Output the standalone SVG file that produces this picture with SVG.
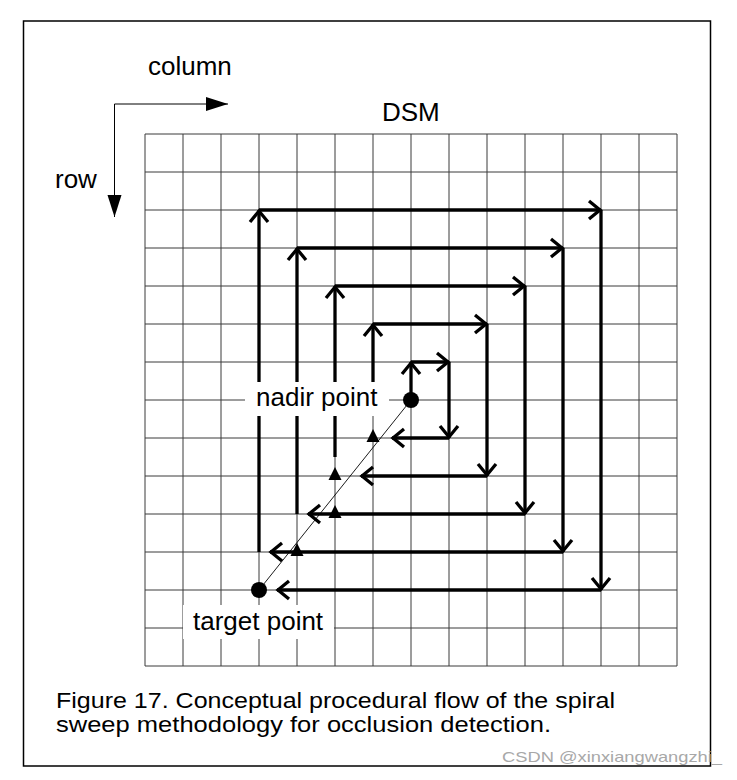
<svg xmlns="http://www.w3.org/2000/svg" width="737" height="780" viewBox="0 0 737 780">
<style>
  .grid { stroke: #3a3a3a; stroke-width: 1; fill: none; }
  .sp { stroke: #000; stroke-width: 3.3; fill: none; marker-end: url(#chev); }
  .lbl { font-family: "Liberation Sans", Arial, sans-serif; font-size: 26px; fill: #000; }
  .cap { font-family: "Liberation Sans", Arial, sans-serif; font-size: 21.5px; fill: #000; }
  .box { fill: #fff; stroke: none; }
</style>
<defs>
  <marker id="chev" markerUnits="userSpaceOnUse" orient="auto" refX="1" refY="0" markerWidth="30" markerHeight="30" viewBox="-15 -15 30 30" overflow="visible">
    <path d="M-11,-9 L0,0 L-11,9" fill="none" stroke="#000" stroke-width="3.3"/>
  </marker>
  <marker id="tri" markerUnits="userSpaceOnUse" orient="auto" refX="0" refY="0" markerWidth="30" markerHeight="30" viewBox="-25 -10 30 20" overflow="visible">
    <path d="M-22,-7 L0,0 L-22,7 Z" fill="#000"/>
  </marker>
</defs>
<rect width="737" height="780" fill="#fff"/>
<rect id="frame" x="23.5" y="21" width="687" height="745" fill="none" stroke="#000" stroke-width="1.5"/>

<g id="axes">
  <path d="M114.5 104 H228" stroke="#000" stroke-width="1" fill="none" marker-end="url(#tri)"/>
  <path d="M114.5 104 V217" stroke="#000" stroke-width="1" fill="none" marker-end="url(#tri)"/>
  <text class="lbl" x="148" y="75">column</text>
  <text class="lbl" x="55" y="188">row</text>
</g>
<g id="dsm-title"><text class="lbl" x="382" y="121">DSM</text></g>

<g id="dsm-grid">
  <path class="grid" d="M145 134V666M183 134V666M221 134V666M259 134V666M297 134V666M335 134V666M373 134V666M411 134V666M449 134V666M487 134V666M525 134V666M563 134V666M601 134V666M639 134V666M677 134V666M145 134H677M145 172H677M145 210H677M145 248H677M145 286H677M145 324H677M145 362H677M145 400H677M145 438H677M145 476H677M145 514H677M145 552H677M145 590H677M145 628H677M145 666H677"/>
</g>

<g id="connectors">
  <path class="sp" d="M411 400V362"/>
  <path class="sp" d="M411 362H449"/>
  <path class="sp" d="M449 362V438"/>
  <path class="sp" d="M449 438H392"/>
  <path class="sp" d="M373 405V324"/>
  <path class="sp" d="M373 324H487"/>
  <path class="sp" d="M487 324V476"/>
  <path class="sp" d="M487 476H361"/>
  <path class="sp" d="M335 457V286"/>
  <path class="sp" d="M335 286H525"/>
  <path class="sp" d="M525 286V514"/>
  <path class="sp" d="M525 514H308"/>
  <path class="sp" d="M297 514V248"/>
  <path class="sp" d="M297 248H563"/>
  <path class="sp" d="M563 248V552"/>
  <path class="sp" d="M563 552H270"/>
  <path class="sp" d="M259 552V210"/>
  <path class="sp" d="M259 210H601"/>
  <path class="sp" d="M601 210V590"/>
  <path class="sp" d="M601 590H277"/>
  <path id="sight-line" d="M259 590L411 400" stroke="#000" stroke-width="0.9" fill="none"/>
</g>

<g id="occlusion-checks" fill="#000">
  <polygon points="373,429 366.5,442 379.5,442"/>
  <polygon points="335,467 328.5,480 341.5,480"/>
  <polygon points="335,505 328.5,518 341.5,518"/>
  <polygon points="297,543 290.5,556 303.5,556"/>
</g>

<g id="nadir-point">
  <rect class="box" x="245" y="382" width="144" height="34"/>
  <text class="lbl" x="256" y="406">nadir point</text>
  <circle cx="411" cy="400" r="8" fill="#000"/>
</g>

<g id="target-point">
  <rect class="box" x="183" y="605" width="151" height="34"/>
  <text class="lbl" x="193" y="630">target point</text>
  <circle cx="259" cy="590" r="8" fill="#000"/>
</g>

<g id="caption">
  <text class="cap" x="56" y="708" textLength="559" lengthAdjust="spacingAndGlyphs">Figure 17. Conceptual procedural flow of the spiral</text>
  <text class="cap" x="56" y="732" textLength="495" lengthAdjust="spacingAndGlyphs">sweep methodology for occlusion detection.</text>
</g>

<g id="watermark">
  <text x="502" y="762" font-family="Liberation Sans, Arial, sans-serif" font-size="15" fill="#a8a8a8" textLength="220" lengthAdjust="spacingAndGlyphs">CSDN @xinxiangwangzhi_</text>
</g>
</svg>
